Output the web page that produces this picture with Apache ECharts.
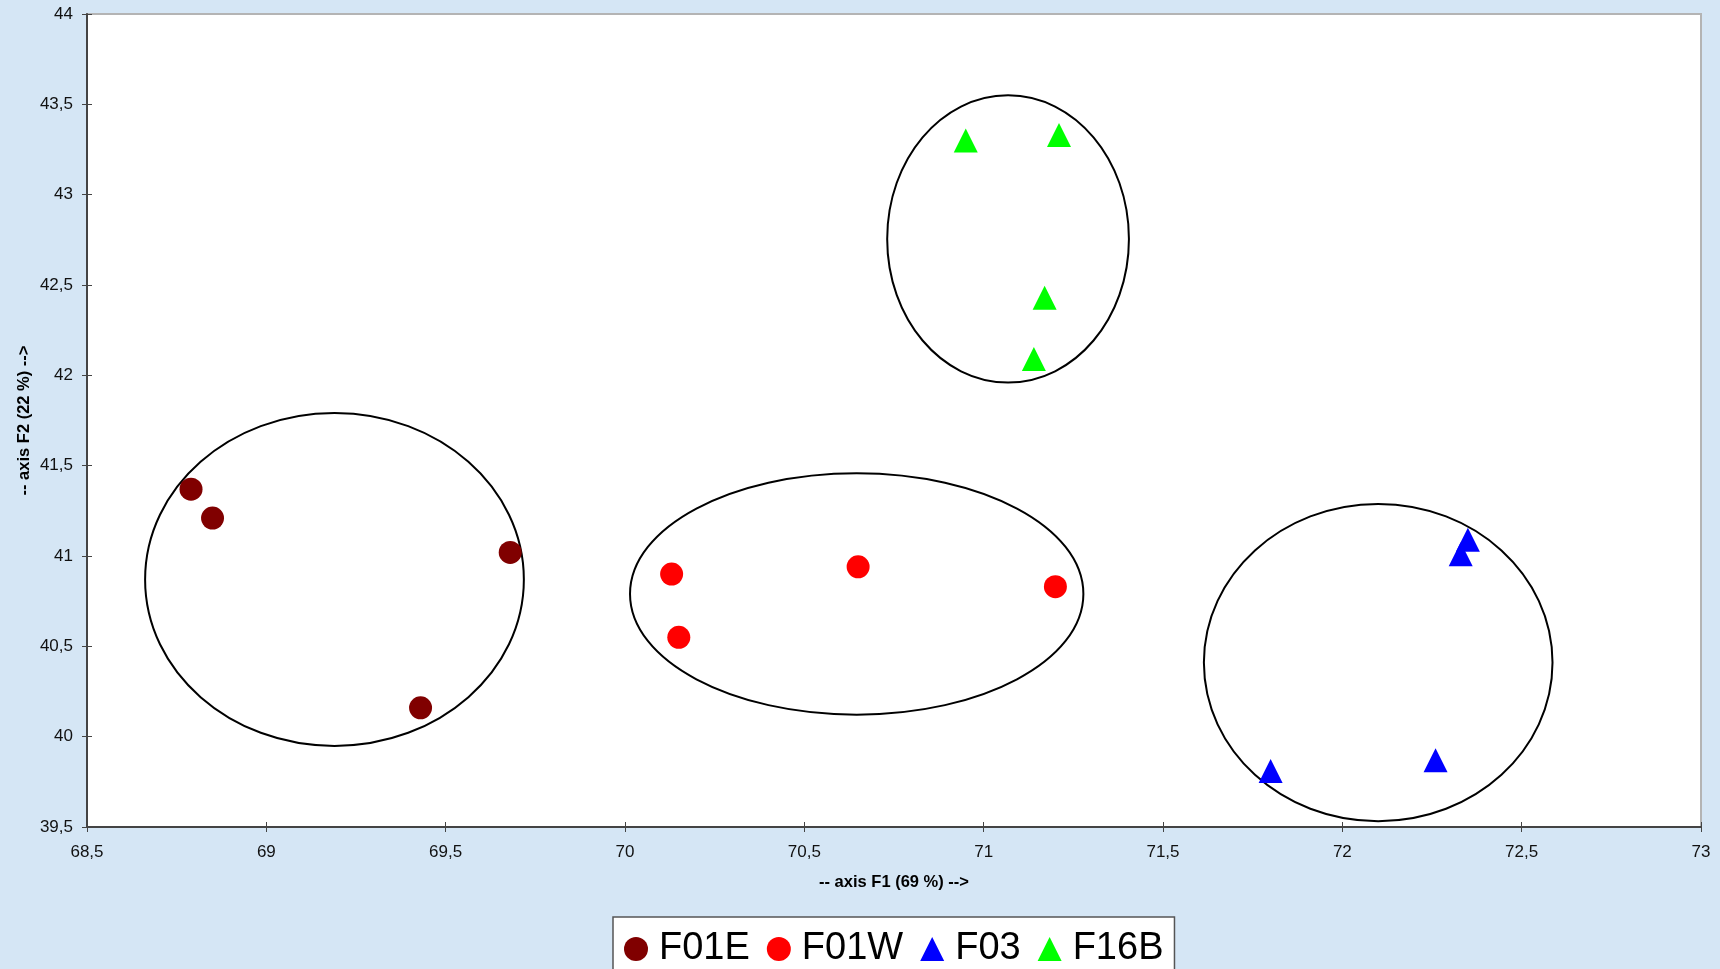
<!DOCTYPE html>
<html>
<head>
<meta charset="utf-8">
<script src="https://cdn.jsdelivr.net/npm/echarts@6/dist/echarts.min.js"></script>
<style>
html,body{margin:0;padding:0;background:#d5e6f5;}
#chart{width:1720px;height:969px;}
</style>
</head>
<body>
<div id="chart"></div>
<script>
// Data (axis F1, axis F2)
var seriesNames = ['F01E', 'F01W', 'F03', 'F16B'];
var F01E = [[68.79, 41.37], [68.85, 41.21], [69.68, 41.02], [69.43, 40.16]];
var F01W = [[70.13, 40.90], [70.15, 40.55], [70.65, 40.94], [71.20, 40.83]];
var F03  = [[72.35, 41.09], [72.33, 41.01], [72.26, 39.87], [71.80, 39.81]];
var F16B = [[70.95, 43.30], [71.21, 43.33], [71.17, 42.43], [71.14, 42.09]];
// Group ellipses: [centerX, centerY, radiusX, radiusY]
var ellipses = [
  [69.19, 40.87, 0.528, 0.921],
  [70.646, 40.79, 0.632, 0.668],
  [72.10, 40.41, 0.486, 0.878],
  [71.068, 42.755, 0.337, 0.795]
];
var xTicks = {min: 68.5, max: 73, interval: 0.5};
var yTicks = {min: 39.5, max: 44, interval: 0.5};
var xName = '-- axis F1 (69 %) -->';
var yName = '-- axis F2 (22 %) -->';

var fontFam = '"Liberation Sans", Arial, Helvetica, sans-serif';
function fmt(v){ return String(v).replace('.', ','); }

var chart = echarts.init(document.getElementById('chart'), null, {renderer: 'canvas'});
var option = {
  backgroundColor: '#d5e6f5',
  animation: false,
  textStyle: {fontFamily: fontFam},
  grid: {left: 87, right: 19, top: 14, bottom: 142, show: true, backgroundColor: '#ffffff', borderColor: '#b4b4b4', borderWidth: 2},
  legend: {
    data: seriesNames,
    left: 613, top: 917,
    padding: [13, 11, 10, 11],
    itemWidth: 24, itemHeight: 24, itemGap: 17,
    backgroundColor: '#ffffff',
    borderColor: '#555555', borderWidth: 1.5, borderRadius: 0,
    textStyle: {fontSize: 38, color: '#000', fontFamily: fontFam, padding: [0, 0, 0, 6]}
  },
  xAxis: [{
    type: 'value', min: xTicks.min, max: xTicks.max, interval: xTicks.interval,
    name: xName, nameLocation: 'middle', nameGap: 47, nameMoveOverlap: false,
    nameTextStyle: {fontSize: 16.5, fontWeight: 'bold', color: '#000', fontFamily: fontFam},
    axisLine: {show: true, onZero: false, lineStyle: {color: '#444', width: 2}},
    axisTick: {show: true, length: 5, lineStyle: {color: '#444', width: 1}},
    axisLabel: {fontSize: 17, color: '#111', margin: 17, formatter: fmt, fontFamily: fontFam},
    splitLine: {show: false}
  }, {
    type: 'value', min: xTicks.min, max: xTicks.max, interval: xTicks.interval, position: 'bottom',
    axisLine: {show: false}, axisTick: {show: true, inside: true, length: 5, lineStyle: {color: '#444', width: 1}},
    axisLabel: {show: false}, splitLine: {show: false}
  }],
  yAxis: [{
    type: 'value', min: yTicks.min, max: yTicks.max, interval: yTicks.interval,
    name: yName, nameLocation: 'middle', nameGap: 54, nameRotate: 90, nameMoveOverlap: false,
    nameTextStyle: {fontSize: 16.5, fontWeight: 'bold', color: '#000', fontFamily: fontFam},
    axisLine: {show: true, onZero: false, lineStyle: {color: '#444', width: 2}},
    axisTick: {show: true, length: 5, lineStyle: {color: '#444', width: 1}},
    axisLabel: {fontSize: 17, color: '#111', margin: 14, formatter: fmt, fontFamily: fontFam},
    splitLine: {show: false}
  }, {
    type: 'value', min: yTicks.min, max: yTicks.max, interval: yTicks.interval, position: 'left',
    axisLine: {show: false}, axisTick: {show: true, inside: true, length: 5, lineStyle: {color: '#444', width: 1}},
    axisLabel: {show: false}, splitLine: {show: false}
  }],
  series: [
    {
      type: 'custom', name: 'ellipses', z: 1, silent: true,
      xAxisIndex: 0, yAxisIndex: 0,
      encode: {x: 0, y: 1},
      data: ellipses,
      renderItem: function (params, api) {
        var c = api.coord([api.value(0), api.value(1)]);
        var s = api.size([api.value(2), api.value(3)]);
        return {
          type: 'ellipse',
          shape: {cx: c[0], cy: c[1], rx: s[0], ry: s[1]},
          style: {fill: 'none', stroke: '#000', lineWidth: 2}
        };
      }
    },
    {type: 'scatter', name: 'F01E', data: F01E, symbol: 'circle', symbolSize: 23, z: 3, itemStyle: {color: '#800000', opacity: 1}},
    {type: 'scatter', name: 'F01W', data: F01W, symbol: 'circle', symbolSize: 23, z: 3, itemStyle: {color: '#ff0000', opacity: 1}},
    {type: 'scatter', name: 'F03', data: F03, symbol: 'triangle', symbolSize: 24, z: 3, itemStyle: {color: '#0000ff', opacity: 1}},
    {type: 'scatter', name: 'F16B', data: F16B, symbol: 'triangle', symbolSize: 24, z: 3, itemStyle: {color: '#00ff00', opacity: 1}}
  ]
};
chart.setOption(option);
</script>
</body>
</html>
